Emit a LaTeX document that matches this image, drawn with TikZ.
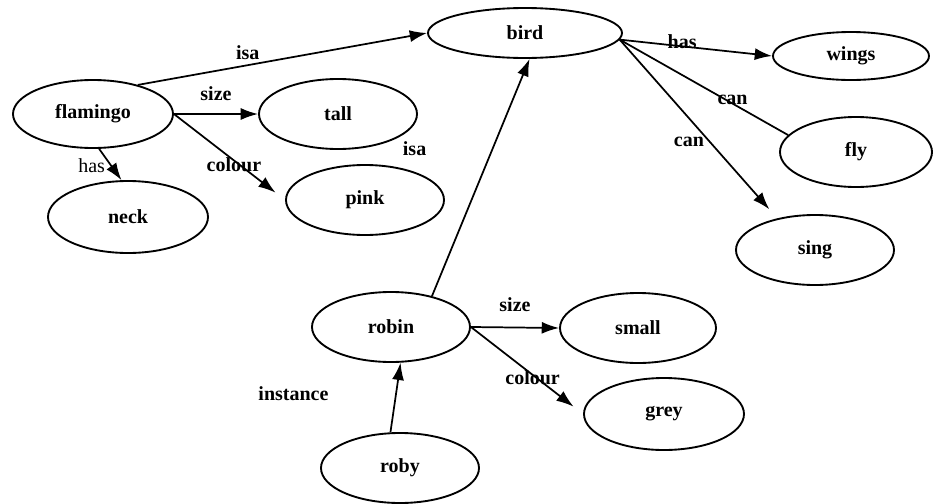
\documentclass[tikz,border=0pt]{standalone}
\usepackage{fontspec}
\setmainfont{Liberation Serif}
\usetikzlibrary{arrows.meta, shapes.geometric}
\tikzset{
  concept/.style={ellipse, draw, line width=1.4pt, inner sep=0pt, minimum width=118.5pt, minimum height=52.5pt, font=\fontsize{15}{18}\selectfont\bfseries},
  link/.style={line width=1.3pt, -{Latex[length=13pt,width=9pt]}},
  bare/.style={line width=1.3pt},
  rel/.style={font=\fontsize{15}{18}\selectfont\bfseries, inner sep=1pt},
  relthin/.style={font=\fontsize{15}{18}\selectfont, inner sep=1pt}
}

\begin{document}
\begin{tikzpicture}[x=0.75pt, y=-0.75pt]
      \useasboundingbox (0,0) rectangle (933,504);

      \node[concept, minimum width=145.5pt, minimum height=37.5pt] (bird) at (525, 33){bird};
      \node[concept, minimum width=117pt, minimum height=36pt] (wings) at (851, 56){wings};
      \node[concept, minimum width=114pt] (fly) at (856, 152){fly};
      \node[concept] (sing) at (815, 250){sing};
      \node[concept, minimum width=120pt, minimum height=51pt] (flamingo) at (93, 114){flamingo};
      \node[concept] (tall) at (338, 114){tall};
      \node[concept] (pink) at (365, 200){pink};
      \node[concept, minimum width=120pt, minimum height=54pt] (neck) at (128, 217){neck};
      \node[concept] (robin) at (391, 327){robin};
      \node[concept, minimum width=117pt] (small) at (638, 328){small};
      \node[concept, minimum width=120pt, minimum height=54pt] (grey) at (664, 414){grey};
      \node[concept] (roby) at (400, 468){roby};

      \draw[link](flamingo.33)--node[rel, pos=.38, above=2.5pt] (isa1) {isa}(bird.west);
      \draw[link](flamingo.east)--node[rel, above=8.5pt] (size1) {size}(tall.west);
      \draw[link, shorten >=9pt](flamingo.east)--node[rel, pos=.54, yshift=-3pt] (colour1) {colour}(pink.west);
      \draw[link](flamingo.-80)--node[relthin, pos=.54, left=3pt] (has1) {has}(neck.100);
      \draw[link](robin.37)--node[rel, pos=.62, left=48pt] (isa2) {isa}(bird.-80);
      \draw[link](bird.-4)--node[rel, pos=.41, yshift=3.5pt] (has2) {has}(wings.west);
      \draw[bare](bird.-4)--node[rel, pos=.67, yshift=2.5pt] (can1) {can}(fly.166);
      \draw[link, shorten >=9pt](bird.-4)--node[rel, pos=.57, left=2.5pt] (can2) {can}(sing.140);
      \draw[link](robin.east)--node[rel, above=10pt] (size2) {size}(small.west);
      \draw[link, shorten >=9pt](robin.east)--node[rel, pos=.55, yshift=-2pt] (colour2) {colour}(grey.west);
      \draw[link](roby.105)--node[rel, pos=.55, left=49pt] (inst) {instance}(robin.-75);
    \end{tikzpicture}
\end{document}
